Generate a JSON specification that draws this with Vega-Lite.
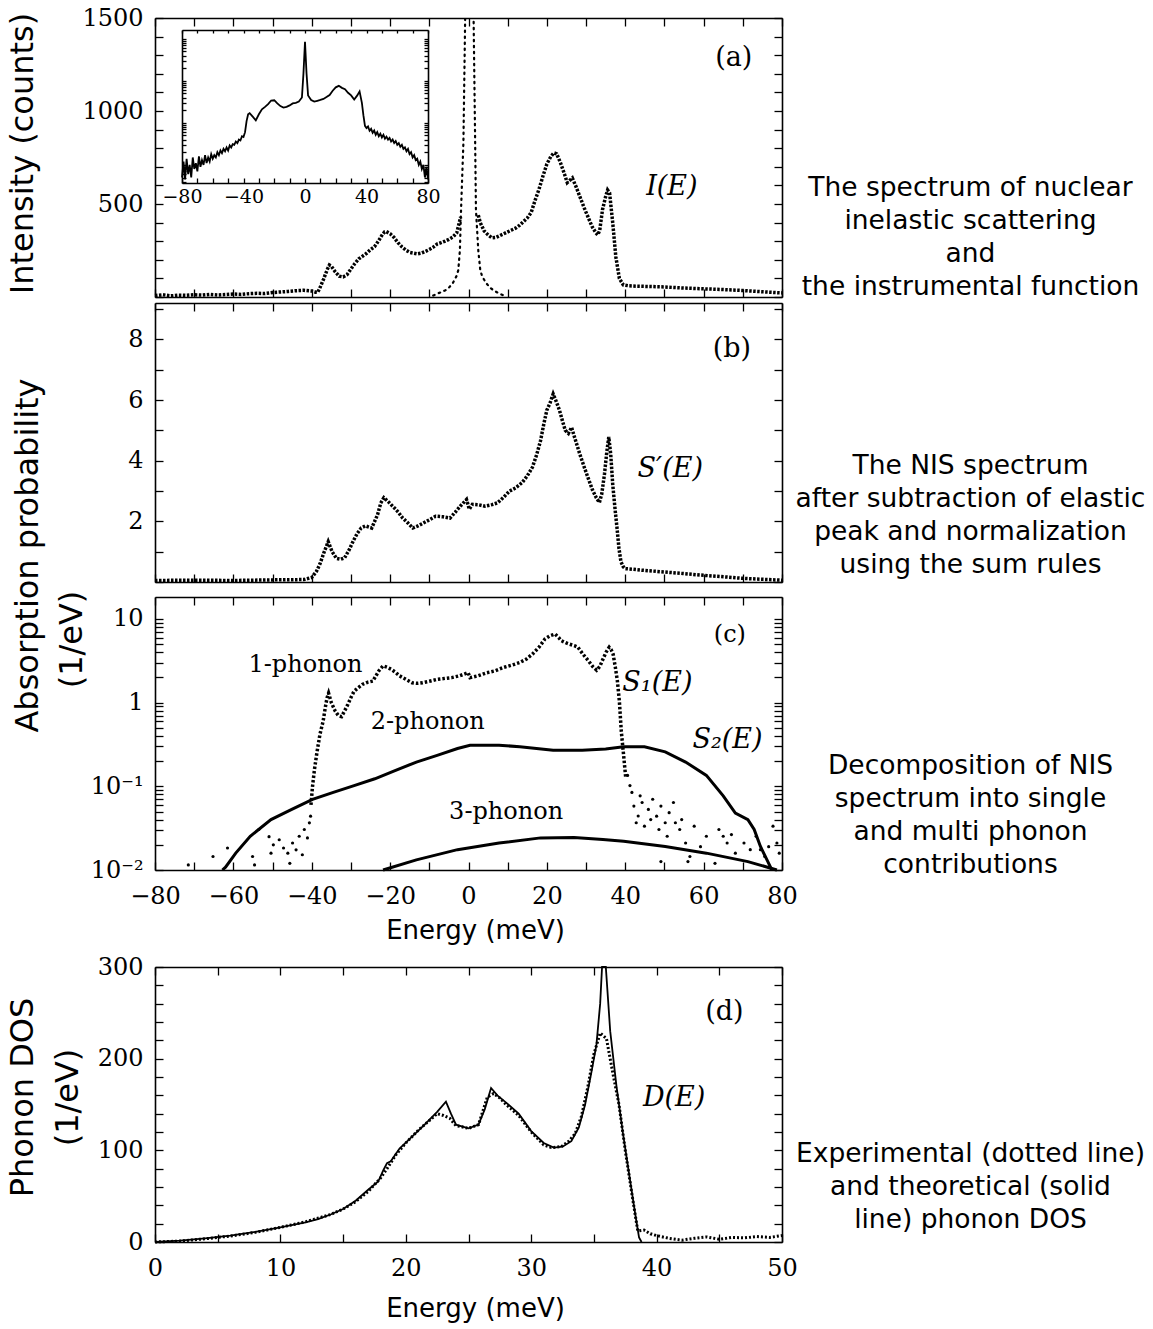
{
"$schema": "https://vega.github.io/schema/vega-lite/v6.json",
"width": 627, "height": 1224,
"autosize": {"type": "none"},
"padding": {"left": 155, "top": 18, "right": 371, "bottom": 87},
"background": "white",
"datasets": {
"spec": [
{"E":-80,"I":8,"seg":1},{"E":-78,"I":12,"seg":1},{"E":-76,"I":6,"seg":1},{"E":-74,"I":10,"seg":1},{"E":-72,"I":9,"seg":1},{"E":-70,"I":12,"seg":1},{"E":-68,"I":10,"seg":1},{"E":-66,"I":14,"seg":1},{"E":-64,"I":11,"seg":1},{"E":-62,"I":13,"seg":1},{"E":-60,"I":16,"seg":1},{"E":-58,"I":14,"seg":1},{"E":-56,"I":18,"seg":1},{"E":-54,"I":20,"seg":1},{"E":-52,"I":19,"seg":1},{"E":-50,"I":24,"seg":1},{"E":-48,"I":27,"seg":1},{"E":-46,"I":30,"seg":1},{"E":-44,"I":34,"seg":1},{"E":-42,"I":36,"seg":1},{"E":-40,"I":32,"seg":1},{"E":-39,"I":26,"seg":1},{"E":-38.5,"I":25,"seg":1},{"E":-38,"I":45,"seg":1},{"E":-37,"I":95,"seg":1},{"E":-36,"I":150,"seg":1},{"E":-35.5,"I":172,"seg":1},{"E":-35,"I":165,"seg":1},{"E":-34,"I":135,"seg":1},{"E":-33,"I":112,"seg":1},{"E":-32,"I":108,"seg":1},{"E":-31,"I":120,"seg":1},{"E":-30,"I":150,"seg":1},{"E":-29,"I":180,"seg":1},{"E":-28,"I":205,"seg":1},{"E":-27,"I":220,"seg":1},{"E":-26,"I":235,"seg":1},{"E":-25,"I":255,"seg":1},{"E":-24,"I":270,"seg":1},{"E":-23,"I":300,"seg":1},{"E":-22,"I":335,"seg":1},{"E":-21.4,"I":350,"seg":1},{"E":-21,"I":352,"seg":1},{"E":-20,"I":340,"seg":1},{"E":-19,"I":320,"seg":1},{"E":-18,"I":292,"seg":1},{"E":-17,"I":270,"seg":1},{"E":-16,"I":252,"seg":1},{"E":-15,"I":240,"seg":1},{"E":-14,"I":236,"seg":1},{"E":-13,"I":232,"seg":1},{"E":-12,"I":236,"seg":1},{"E":-11,"I":245,"seg":1},{"E":-10,"I":255,"seg":1},{"E":-9,"I":268,"seg":1},{"E":-8,"I":285,"seg":1},{"E":-7,"I":292,"seg":1},{"E":-6,"I":300,"seg":1},{"E":-5,"I":310,"seg":1},{"E":-4,"I":322,"seg":1},{"E":-3,"I":345,"seg":1},{"E":-2,"I":430,"seg":1},
{"E":2.5,"I":440,"seg":2},{"E":3,"I":400,"seg":2},{"E":4,"I":355,"seg":2},{"E":5,"I":334,"seg":2},{"E":6,"I":318,"seg":2},{"E":7,"I":320,"seg":2},{"E":8,"I":330,"seg":2},{"E":9,"I":340,"seg":2},{"E":10,"I":350,"seg":2},{"E":11,"I":360,"seg":2},{"E":12,"I":370,"seg":2},{"E":13,"I":385,"seg":2},{"E":14,"I":405,"seg":2},{"E":15,"I":425,"seg":2},{"E":16,"I":455,"seg":2},{"E":17,"I":520,"seg":2},{"E":18,"I":580,"seg":2},{"E":19,"I":650,"seg":2},{"E":20,"I":715,"seg":2},{"E":21,"I":755,"seg":2},{"E":21.8,"I":775,"seg":2},{"E":22.5,"I":770,"seg":2},{"E":23.5,"I":720,"seg":2},{"E":24.5,"I":660,"seg":2},{"E":25.2,"I":615,"seg":2},{"E":26,"I":630,"seg":2},{"E":26.5,"I":640,"seg":2},{"E":27.5,"I":590,"seg":2},{"E":28.5,"I":535,"seg":2},{"E":29.5,"I":480,"seg":2},{"E":30.5,"I":430,"seg":2},{"E":31.5,"I":380,"seg":2},{"E":32.5,"I":345,"seg":2},{"E":33,"I":334,"seg":2},{"E":33.5,"I":360,"seg":2},{"E":34.2,"I":470,"seg":2},{"E":35,"I":540,"seg":2},{"E":35.5,"I":575,"seg":2},{"E":36,"I":560,"seg":2},{"E":36.8,"I":400,"seg":2},{"E":37.6,"I":215,"seg":2},{"E":38.5,"I":100,"seg":2},{"E":39.5,"I":65,"seg":2},{"E":41,"I":60,"seg":2},{"E":43,"I":58,"seg":2},{"E":45,"I":57,"seg":2},{"E":47,"I":56,"seg":2},{"E":50,"I":54,"seg":2},{"E":55,"I":48,"seg":2},{"E":60,"I":44,"seg":2},{"E":65,"I":40,"seg":2},{"E":70,"I":35,"seg":2},{"E":75,"I":28,"seg":2},{"E":80,"I":22,"seg":2}
],
"inst": [
{"E":-9,"I":8},{"E":-7.7,"I":20},{"E":-6,"I":35},{"E":-5,"I":50},{"E":-4,"I":75},{"E":-3,"I":115},{"E":-2.6,"I":145},{"E":-2.2,"I":250},{"E":-1.9,"I":470},{"E":-1.3,"I":830},{"E":-0.85,"I":1500},{"E":0.2,"I":2500},{"E":1.3,"I":1500},{"E":1.7,"I":830},{"E":1.9,"I":470},{"E":2.5,"I":250},{"E":3,"I":145},{"E":3.5,"I":110},{"E":4.5,"I":75},{"E":5.5,"I":50},{"E":6.5,"I":35},{"E":7.7,"I":20},{"E":9,"I":8}
],
"inset": [
{"E":-80,"c":5},{"E":-79,"c":12},{"E":-78,"c":4.5},{"E":-77,"c":14},{"E":-76,"c":6},{"E":-75,"c":10},{"E":-74,"c":5},{"E":-73,"c":15},{"E":-72,"c":8},{"E":-71,"c":11},{"E":-70,"c":7},{"E":-69,"c":16},{"E":-68,"c":9},{"E":-67,"c":13},{"E":-66,"c":10},{"E":-65,"c":17},{"E":-64,"c":11},{"E":-63,"c":15},{"E":-62,"c":12},{"E":-61,"c":18},{"E":-60,"c":14},{"E":-59,"c":17},{"E":-58,"c":15},{"E":-57,"c":20},{"E":-56,"c":17},{"E":-55,"c":22},{"E":-54,"c":19},{"E":-53,"c":24},{"E":-52,"c":21},{"E":-51,"c":26},{"E":-50,"c":22},{"E":-49,"c":29},{"E":-48,"c":26},{"E":-47,"c":31},{"E":-46,"c":30},{"E":-45,"c":36},{"E":-44,"c":33},{"E":-43,"c":40},{"E":-42,"c":38},{"E":-41,"c":48},{"E":-40,"c":46},{"E":-39,"c":60},{"E":-38,"c":110},{"E":-37,"c":160},{"E":-36,"c":170},{"E":-34,"c":140},{"E":-32,"c":115},{"E":-30,"c":160},{"E":-28,"c":210},{"E":-26,"c":240},{"E":-24,"c":280},{"E":-22,"c":340},{"E":-20,"c":345},{"E":-18,"c":290},{"E":-16,"c":250},{"E":-14,"c":230},{"E":-12,"c":240},{"E":-10,"c":260},{"E":-8,"c":290},{"E":-6,"c":300},{"E":-4,"c":320},{"E":-2,"c":400},{"E":-1,"c":1500},{"E":0,"c":8500},{"E":1,"c":1500},{"E":2,"c":450},{"E":4,"c":350},{"E":6,"c":320},{"E":8,"c":335},{"E":10,"c":350},{"E":12,"c":370},{"E":14,"c":410},{"E":16,"c":460},{"E":18,"c":580},{"E":20,"c":700},{"E":22,"c":760},{"E":24,"c":680},{"E":26,"c":630},{"E":28,"c":520},{"E":30,"c":450},{"E":32,"c":360},{"E":34,"c":450},{"E":35.5,"c":560},{"E":37,"c":300},{"E":38,"c":150},{"E":39,"c":85},{"E":40,"c":75},{"E":41,"c":82},{"E":42,"c":65},{"E":43,"c":72},{"E":44,"c":58},{"E":45,"c":66},{"E":46,"c":52},{"E":47,"c":60},{"E":48,"c":48},{"E":49,"c":55},{"E":50,"c":45},{"E":51,"c":52},{"E":52,"c":42},{"E":53,"c":47},{"E":54,"c":40},{"E":55,"c":44},{"E":56,"c":36},{"E":57,"c":40},{"E":58,"c":33},{"E":59,"c":37},{"E":60,"c":30},{"E":61,"c":33},{"E":62,"c":27},{"E":63,"c":30},{"E":64,"c":24},{"E":65,"c":26},{"E":66,"c":21},{"E":67,"c":24},{"E":68,"c":18},{"E":69,"c":20},{"E":70,"c":15},{"E":71,"c":17},{"E":72,"c":13},{"E":73,"c":14},{"E":74,"c":10},{"E":75,"c":12},{"E":76,"c":8},{"E":77,"c":10},{"E":78,"c":5},{"E":79,"c":9},{"E":80,"c":4.5}
],
"sprime": [
{"E":-80,"S":0.05},{"E":-70,"S":0.06},{"E":-60,"S":0.05},{"E":-50,"S":0.07},{"E":-42,"S":0.08},{"E":-40,"S":0.15},{"E":-38.8,"S":0.35},{"E":-37.9,"S":0.6},{"E":-36.8,"S":1.0},{"E":-35.8,"S":1.33},{"E":-34.8,"S":1.0},{"E":-33.7,"S":0.78},{"E":-32.6,"S":0.75},{"E":-31.6,"S":0.8},{"E":-30.5,"S":1.05},{"E":-29.5,"S":1.33},{"E":-28.4,"S":1.6},{"E":-27.4,"S":1.78},{"E":-26.3,"S":1.85},{"E":-24.7,"S":1.78},{"E":-23.2,"S":2.22},{"E":-22.4,"S":2.6},{"E":-21.6,"S":2.78},{"E":-20.5,"S":2.65},{"E":-18.9,"S":2.44},{"E":-17.9,"S":2.3},{"E":-16.8,"S":2.11},{"E":-15.5,"S":1.95},{"E":-14.2,"S":1.78},{"E":-12.9,"S":1.85},{"E":-11.6,"S":1.94},{"E":-10,"S":2.05},{"E":-8.4,"S":2.17},{"E":-6.5,"S":2.15},{"E":-4.7,"S":2.11},{"E":-3.4,"S":2.3},{"E":-2.1,"S":2.5},{"E":-0.5,"S":2.72},{"E":0.2,"S":2.4},{"E":1,"S":2.56},{"E":2.5,"S":2.55},{"E":4.2,"S":2.5},{"E":6,"S":2.55},{"E":7.4,"S":2.61},{"E":9,"S":2.8},{"E":10.5,"S":3.0},{"E":12,"S":3.1},{"E":13.7,"S":3.28},{"E":15,"S":3.5},{"E":16.3,"S":3.78},{"E":17.4,"S":4.2},{"E":18.4,"S":4.67},{"E":19.2,"S":5.2},{"E":20,"S":5.67},{"E":20.8,"S":5.9},{"E":21.6,"S":6.2},{"E":22.4,"S":5.95},{"E":23.2,"S":5.67},{"E":24,"S":5.3},{"E":24.7,"S":5.0},{"E":25.5,"S":4.9},{"E":26.3,"S":5.1},{"E":27,"S":4.8},{"E":28.4,"S":4.22},{"E":29.5,"S":3.8},{"E":30.5,"S":3.44},{"E":31.6,"S":3.05},{"E":32.6,"S":2.78},{"E":33.4,"S":2.62},{"E":34,"S":2.9},{"E":34.7,"S":3.56},{"E":35.3,"S":4.3},{"E":35.8,"S":4.78},{"E":36.3,"S":4.2},{"E":36.8,"S":3.22},{"E":37.4,"S":2.4},{"E":37.9,"S":1.78},{"E":38.4,"S":1.1},{"E":38.9,"S":0.67},{"E":39.5,"S":0.5},{"E":40,"S":0.44},{"E":42,"S":0.42},{"E":44.2,"S":0.39},{"E":48,"S":0.35},{"E":54.7,"S":0.28},{"E":60,"S":0.22},{"E":65.3,"S":0.17},{"E":70,"S":0.12},{"E":75,"S":0.09},{"E":80,"S":0.06}
],
"s1": [
{"E":-40.2,"S":0.06},{"E":-39.8,"S":0.1},{"E":-39.3,"S":0.16},{"E":-38.7,"S":0.25},{"E":-37.9,"S":0.42},{"E":-37.1,"S":0.6},{"E":-36.5,"S":0.9},{"E":-36.1,"S":1.14},{"E":-35.7,"S":1.3},{"E":-35,"S":1.0},{"E":-34,"S":0.79},{"E":-33.2,"S":0.7},{"E":-32.4,"S":0.68},{"E":-31.6,"S":0.8},{"E":-30.8,"S":0.95},{"E":-30,"S":1.15},{"E":-29.2,"S":1.37},{"E":-28.2,"S":1.5},{"E":-27.1,"S":1.65},{"E":-25.8,"S":1.75},{"E":-24.4,"S":1.81},{"E":-23.6,"S":2.1},{"E":-22.9,"S":2.39},{"E":-21.8,"S":2.75},{"E":-20.8,"S":2.65},{"E":-19.7,"S":2.5},{"E":-18.6,"S":2.3},{"E":-17.6,"S":2.09},{"E":-16,"S":1.9},{"E":-14.4,"S":1.73},{"E":-13,"S":1.7},{"E":-11.7,"S":1.73},{"E":-10,"S":1.8},{"E":-8,"S":1.9},{"E":-6,"S":1.95},{"E":-4.3,"S":1.99},{"E":-2.2,"S":2.1},{"E":-0.1,"S":2.28},{"E":0.4,"S":1.99},{"E":2.5,"S":2.1},{"E":4.7,"S":2.28},{"E":6.8,"S":2.4},{"E":8.9,"S":2.63},{"E":11,"S":2.8},{"E":13.1,"S":3.02},{"E":14.7,"S":3.3},{"E":16.3,"S":3.8},{"E":18,"S":4.6},{"E":19.5,"S":5.76},{"E":20.8,"S":6.3},{"E":22.1,"S":6.6},{"E":23,"S":6.0},{"E":23.7,"S":5.5},{"E":24.8,"S":5.2},{"E":25.8,"S":5.0},{"E":27,"S":4.8},{"E":27.9,"S":4.6},{"E":29.2,"S":3.8},{"E":30.6,"S":3.16},{"E":31.7,"S":2.7},{"E":32.7,"S":2.44},{"E":33.5,"S":2.7},{"E":34.3,"S":3.3},{"E":35.1,"S":4.0},{"E":35.9,"S":4.6},{"E":36.4,"S":4.3},{"E":36.9,"S":3.8},{"E":37.5,"S":2.6},{"E":38,"S":1.8},{"E":38.5,"S":1.04},{"E":39,"S":0.45},{"E":39.6,"S":0.23},{"E":40.1,"S":0.13}
],
"noise": [
{"E":-71.5,"S":0.0115},{"E":-65.2,"S":0.0145},{"E":-61.5,"S":0.0183},{"E":-55.1,"S":0.0145},{"E":-54.6,"S":0.0115},{"E":-53.5,"S":0.0305},{"E":-50.4,"S":0.0159},{"E":-50.9,"S":0.025},{"E":-49.8,"S":0.02},{"E":-48.3,"S":0.023},{"E":-47.2,"S":0.0183},{"E":-46.1,"S":0.0159},{"E":-45.6,"S":0.012},{"E":-44.9,"S":0.021},{"E":-44,"S":0.0174},{"E":-43.2,"S":0.0253},{"E":-42.4,"S":0.0152},{"E":-41.9,"S":0.0305},{"E":-41.1,"S":0.0242},{"E":-40.6,"S":0.0366},{"E":-40.3,"S":0.044},
{"E":40.6,"S":0.135},{"E":41.2,"S":0.102},{"E":41.7,"S":0.0846},{"E":42.2,"S":0.058},{"E":42.8,"S":0.0367},{"E":43.3,"S":0.0442},{"E":43.8,"S":0.077},{"E":44.3,"S":0.064},{"E":44.9,"S":0.0334},{"E":45.9,"S":0.053},{"E":46.5,"S":0.04},{"E":47,"S":0.07},{"E":48,"S":0.044},{"E":48.6,"S":0.0305},{"E":49.1,"S":0.058},{"E":50.2,"S":0.0367},{"E":50.7,"S":0.0253},{"E":51.2,"S":0.0484},{"E":52.3,"S":0.064},{"E":52.8,"S":0.0367},{"E":53.9,"S":0.0305},{"E":54.4,"S":0.04},{"E":55.4,"S":0.021},{"E":56.5,"S":0.0145},{"E":57.6,"S":0.0334},{"E":59.2,"S":0.019},{"E":60.7,"S":0.0253},{"E":62.9,"S":0.012},{"E":63.9,"S":0.0305},{"E":65,"S":0.0253},{"E":66,"S":0.021},{"E":67.1,"S":0.0265},{"E":68.1,"S":0.0159},{"E":70.3,"S":0.021},{"E":71.9,"S":0.0175},{"E":73.4,"S":0.0253},{"E":74.5,"S":0.0175},{"E":75.6,"S":0.0145},{"E":76.6,"S":0.019},{"E":77.7,"S":0.0334},{"E":78.7,"S":0.021},{"E":79.3,"S":0.0159},{"E":49.1,"S":0.0126},{"E":56,"S":0.0126}
],
"s2": [
{"E":-62.8,"S":0.01},{"E":-62,"S":0.0108},{"E":-59.4,"S":0.0159},{"E":-55.7,"S":0.0253},{"E":-50.4,"S":0.04},{"E":-45.1,"S":0.053},{"E":-39.8,"S":0.07},{"E":-34.5,"S":0.0846},{"E":-29.2,"S":0.102},{"E":-23.9,"S":0.123},{"E":-18.6,"S":0.155},{"E":-13.3,"S":0.195},{"E":-8,"S":0.234},{"E":-2.8,"S":0.283},{"E":0.4,"S":0.31},{"E":7.8,"S":0.31},{"E":13.1,"S":0.297},{"E":21.6,"S":0.27},{"E":29,"S":0.27},{"E":35,"S":0.28},{"E":39.6,"S":0.297},{"E":44.9,"S":0.297},{"E":50.2,"S":0.258},{"E":55.4,"S":0.195},{"E":60.7,"S":0.135},{"E":65,"S":0.077},{"E":68.1,"S":0.048},{"E":71.3,"S":0.04},{"E":72.9,"S":0.0305},{"E":74.5,"S":0.0191},{"E":76.6,"S":0.012},{"E":77.4,"S":0.01}
],
"s3": [
{"E":-21.8,"S":0.01},{"E":-13.3,"S":0.0132},{"E":-2.8,"S":0.0175},{"E":7.8,"S":0.021},{"E":18.4,"S":0.0242},{"E":26.9,"S":0.0245},{"E":34.3,"S":0.0231},{"E":39.6,"S":0.022},{"E":50.2,"S":0.0191},{"E":60.7,"S":0.0159},{"E":71.3,"S":0.0126},{"E":78.7,"S":0.01}
],
"dth": [
{"E":0,"D":0},{"E":2,"D":1.5},{"E":4,"D":4},{"E":6,"D":7},{"E":8,"D":11},{"E":10,"D":16},{"E":12,"D":21.5},{"E":13,"D":25},{"E":14,"D":30},{"E":15,"D":36},{"E":16,"D":45},{"E":17,"D":57},{"E":17.8,"D":66},{"E":18.2,"D":78},{"E":18.5,"D":86},{"E":18.8,"D":88},{"E":19.5,"D":102},{"E":20.5,"D":115},{"E":21.5,"D":128},{"E":22.5,"D":142},{"E":23.2,"D":153},{"E":23.6,"D":140},{"E":24,"D":128},{"E":25,"D":124},{"E":25.8,"D":128},{"E":26.3,"D":145},{"E":26.8,"D":168},{"E":27.3,"D":160},{"E":28,"D":152},{"E":29,"D":140},{"E":30,"D":121},{"E":31,"D":108},{"E":31.8,"D":103},{"E":32.5,"D":104},{"E":33.2,"D":110},{"E":33.8,"D":125},{"E":34.3,"D":150},{"E":34.8,"D":185},{"E":35.2,"D":215},{"E":35.5,"D":260},{"E":35.65,"D":300},{"E":35.95,"D":300},{"E":36.3,"D":230},{"E":36.8,"D":170},{"E":37.3,"D":120},{"E":37.8,"D":75},{"E":38.3,"D":30},{"E":38.6,"D":5},{"E":38.8,"D":0}
],
"dex": [
{"E":0,"D":0},{"E":2,"D":1},{"E":4,"D":3.5},{"E":6,"D":6.5},{"E":8,"D":10.5},{"E":10,"D":16},{"E":12,"D":22},{"E":14,"D":30},{"E":15,"D":36},{"E":16,"D":44},{"E":17,"D":55},{"E":18,"D":70},{"E":18.6,"D":82},{"E":19.2,"D":95},{"E":20,"D":108},{"E":21,"D":122},{"E":22,"D":134},{"E":22.5,"D":140},{"E":23,"D":138},{"E":23.5,"D":135},{"E":24,"D":127},{"E":25,"D":124},{"E":25.8,"D":128},{"E":26.5,"D":158},{"E":27,"D":162},{"E":27.5,"D":157},{"E":28,"D":150},{"E":29,"D":138},{"E":30,"D":120},{"E":31,"D":106},{"E":31.6,"D":103},{"E":32.4,"D":104},{"E":33,"D":110},{"E":33.5,"D":118},{"E":34,"D":137},{"E":34.5,"D":168},{"E":35,"D":205},{"E":35.5,"D":228},{"E":36,"D":222},{"E":36.5,"D":185},{"E":37,"D":150},{"E":37.5,"D":100},{"E":38,"D":55},{"E":38.5,"D":12},{"E":39,"D":13},{"E":39.5,"D":9},{"E":40,"D":7},{"E":41,"D":4},{"E":42,"D":2},{"E":43,"D":4},{"E":44,"D":5.5},{"E":45,"D":3},{"E":46,"D":5},{"E":47,"D":4.5},{"E":48,"D":6},{"E":49,"D":5},{"E":50,"D":7}
]
},
"resolve": {"scale": {"x": "independent", "y": "independent"}, "axis": {"x": "independent", "y": "independent"}},
"layer": [
{"data": {"name": "spec"},
 "mark": {"type": "line", "color": "black", "strokeWidth": 3.5, "strokeDash": [2.5, 1.5]},
 "encoding": {
  "x": {"field": "E", "type": "quantitative", "scale": {"domain": [-80, 80], "nice": false, "zero": false},
        "axis": {"orient": "bottom", "offset": -945, "values": [-80,-70,-60,-50,-40,-30,-20,-10,0,10,20,30,40,50,60,70,80], "labels": false, "title": null}},
  "y": {"field": "I", "type": "quantitative", "scale": {"domain": [0, 1500], "range": [279, 0], "nice": false, "zero": false},
        "axis": {"orient": "left", "values": [0,100,200,300,400,500,600,700,800,900,1000,1100,1200,1300,1400,1500], "format": "d",
                 "labelExpr": "datum.value % 500 == 0 && datum.value > 0 ? datum.label : ''",
                 "title": "Intensity (counts)", "titleAngle": 270, "titleX": -133, "titleY": 135}},
  "detail": {"field": "seg"}
 }},
{"data": {"name": "inst"},
 "mark": {"type": "line", "color": "black", "strokeWidth": 2.2, "strokeDash": [1.5, 4.5], "strokeCap": "round", "clip": true},
 "encoding": {
  "x": {"field": "E", "type": "quantitative", "scale": {"domain": [-80, 80], "nice": false, "zero": false},
        "axis": {"orient": "top", "offset": 0, "values": [-80,-70,-60,-50,-40,-30,-20,-10,0,10,20,30,40,50,60,70,80], "labels": false, "title": null}},
  "y": {"field": "I", "type": "quantitative", "scale": {"domain": [0, 1500], "range": [279, 0], "nice": false, "zero": false},
        "axis": {"orient": "right", "values": [0,100,200,300,400,500,600,700,800,900,1000,1100,1200,1300,1400,1500], "labels": false,
                 "title": ["The spectrum of nuclear", "inelastic scattering", "and", "the instrumental function"],
                 "titleAngle": 0, "titleX": 188, "titleY": 169, "titleFontSize": 26.5, "titleLineHeight": 33}}
 }},
{"data": {"name": "inset"},
 "mark": {"type": "line", "color": "black", "strokeWidth": 1.8},
 "encoding": {
  "x": {"field": "E", "type": "quantitative", "scale": {"domain": [-80, 80], "range": [27, 273], "nice": false, "zero": false},
        "axis": {"orient": "bottom", "offset": -1059, "values": [-80,-70,-60,-50,-40,-30,-20,-10,0,10,20,30,40,50,60,70,80], "format": "d",
                 "labelExpr": "datum.value % 40 == 0 ? datum.label : ''", "labelFontSize": 19, "tickSize": -5, "labelPadding": 9, "title": null}},
  "y": {"field": "c", "type": "quantitative", "scale": {"type": "log", "domain": [3.7, 16200], "range": [165, 12], "nice": false},
        "axis": {"orient": "left", "offset": -27, "values": [4,5,6,7,8,9,10,20,30,40,50,60,70,80,90,100,200,300,400,500,600,700,800,900,1000,2000,3000,4000,5000,6000,7000,8000,9000,10000], "labels": false, "tickSize": -4, "title": null}}
 }},
{"data": {"name": "inset"},
 "mark": {"type": "line", "color": "black", "opacity": 0},
 "encoding": {
  "x": {"field": "E", "type": "quantitative", "scale": {"domain": [-80, 80], "range": [27, 273], "nice": false, "zero": false},
        "axis": {"orient": "top", "offset": -12, "values": [-80,-70,-60,-50,-40,-30,-20,-10,0,10,20,30,40,50,60,70,80], "labels": false, "tickSize": -3, "title": null}},
  "y": {"field": "c", "type": "quantitative", "scale": {"type": "log", "domain": [3.7, 16200], "range": [165, 12], "nice": false},
        "axis": {"orient": "right", "offset": -354, "values": [4,5,6,7,8,9,10,20,30,40,50,60,70,80,90,100,200,300,400,500,600,700,800,900,1000,2000,3000,4000,5000,6000,7000,8000,9000,10000], "labels": false, "tickSize": -4, "title": null}}
 }},
{"data": {"values": [{"E": 67.7, "v": 1286, "t": "(a)"}]},
 "mark": {"type": "text", "font": "DejaVu Serif", "fontSize": 27, "color": "black"},
 "encoding": {
  "x": {"field": "E", "type": "quantitative", "scale": {"domain": [-80, 80], "nice": false, "zero": false}, "axis": null},
  "y": {"field": "v", "type": "quantitative", "scale": {"domain": [0, 1500], "range": [279, 0], "nice": false, "zero": false}, "axis": null},
  "text": {"field": "t"}
 }},
{"data": {"values": [{"E": 51.9, "v": 592, "t": "I(E)"}]},
 "mark": {"type": "text", "font": "DejaVu Serif", "fontSize": 27, "fontStyle": "italic", "color": "black"},
 "encoding": {
  "x": {"field": "E", "type": "quantitative", "scale": {"domain": [-80, 80], "nice": false, "zero": false}, "axis": null},
  "y": {"field": "v", "type": "quantitative", "scale": {"domain": [0, 1500], "range": [279, 0], "nice": false, "zero": false}, "axis": null},
  "text": {"field": "t"}
 }},
{"data": {"name": "sprime"},
 "mark": {"type": "line", "color": "black", "strokeWidth": 3.5, "strokeDash": [2.5, 1.5]},
 "encoding": {
  "x": {"field": "E", "type": "quantitative", "scale": {"domain": [-80, 80], "nice": false, "zero": false},
        "axis": {"orient": "bottom", "offset": -660, "values": [-80,-70,-60,-50,-40,-30,-20,-10,0,10,20,30,40,50,60,70,80], "labels": false, "title": null}},
  "y": {"field": "S", "type": "quantitative", "scale": {"domain": [0, 9.2], "range": [564, 285], "nice": false, "zero": false},
        "axis": {"orient": "left", "values": [0,1,2,3,4,5,6,7,8,9], "format": "d",
                 "labelExpr": "datum.value % 2 == 0 && datum.value > 0 ? datum.label : ''",
                 "title": "Absorption probability", "titleAngle": 270, "titleX": -128, "titleY": 537}}
 }},
{"data": {"values": [{"E": 67.2, "v": 7.68, "t": "(b)"}]},
 "mark": {"type": "text", "font": "DejaVu Serif", "fontSize": 27, "color": "black"},
 "encoding": {
  "x": {"field": "E", "type": "quantitative", "scale": {"domain": [-80, 80], "nice": false, "zero": false},
        "axis": {"orient": "top", "offset": -285, "values": [-80,-70,-60,-50,-40,-30,-20,-10,0,10,20,30,40,50,60,70,80], "labels": false, "title": null}},
  "y": {"field": "v", "type": "quantitative", "scale": {"domain": [0, 9.2], "range": [564, 285], "nice": false, "zero": false},
        "axis": {"orient": "right", "values": [0,1,2,3,4,5,6,7,8,9], "labels": false,
                 "title": ["The NIS spectrum", "after subtraction of elastic", "peak and normalization", "using the sum rules"],
                 "titleAngle": 0, "titleX": 188, "titleY": 447, "titleFontSize": 26.5, "titleLineHeight": 33}},
  "text": {"field": "t"}
 }},
{"data": {"values": [{"E": 51.5, "v": 3.73, "t": "S′(E)"}]},
 "mark": {"type": "text", "font": "DejaVu Serif", "fontSize": 27, "fontStyle": "italic", "color": "black"},
 "encoding": {
  "x": {"field": "E", "type": "quantitative", "scale": {"domain": [-80, 80], "nice": false, "zero": false}, "axis": null},
  "y": {"field": "v", "type": "quantitative", "scale": {"domain": [0, 9.2], "range": [564, 285], "nice": false, "zero": false}, "axis": null},
  "text": {"field": "t"}
 }},
{"data": {"name": "s1"},
 "mark": {"type": "line", "color": "black", "strokeWidth": 3.5, "strokeDash": [2.5, 2]},
 "encoding": {
  "x": {"field": "E", "type": "quantitative", "scale": {"domain": [-80, 80], "nice": false, "zero": false},
        "axis": {"orient": "bottom", "offset": -372, "values": [-80,-70,-60,-50,-40,-30,-20,-10,0,10,20,30,40,50,60,70,80], "format": "d",
                 "labelExpr": "datum.value % 20 == 0 ? datum.label : ''", "labelPadding": 22,
                 "title": "Energy (meV)", "titleFontSize": 26, "titleX": 320, "titleY": 60}},
  "y": {"field": "S", "type": "quantitative", "scale": {"type": "log", "domain": [0.01, 18.3], "range": [852, 579], "nice": false},
        "axis": {"orient": "left", "values": [0.01,0.02,0.03,0.04,0.05,0.06,0.07,0.08,0.09,0.1,0.2,0.3,0.4,0.5,0.6,0.7,0.8,0.9,1,2,3,4,5,6,7,8,9,10],
                 "labelExpr": "datum.value == 0.01 ? '10⁻²' : datum.value == 0.1 ? '10⁻¹' : datum.value == 1 ? '1' : datum.value == 10 ? '10' : ''",
                 "title": "(1/eV)", "titleAngle": 270, "titleX": -84, "titleY": 621}}
 }},
{"data": {"name": "noise"},
 "mark": {"type": "point", "filled": true, "color": "black", "size": 10, "opacity": 1},
 "encoding": {
  "x": {"field": "E", "type": "quantitative", "scale": {"domain": [-80, 80], "nice": false, "zero": false},
        "axis": {"orient": "top", "offset": -579, "values": [-80,-70,-60,-50,-40,-30,-20,-10,0,10,20,30,40,50,60,70,80], "labels": false, "title": null}},
  "y": {"field": "S", "type": "quantitative", "scale": {"type": "log", "domain": [0.01, 18.3], "range": [852, 579], "nice": false},
        "axis": {"orient": "right", "values": [0.01,0.02,0.03,0.04,0.05,0.06,0.07,0.08,0.09,0.1,0.2,0.3,0.4,0.5,0.6,0.7,0.8,0.9,1,2,3,4,5,6,7,8,9,10], "labels": false,
                 "title": ["Decomposition of NIS", "spectrum into single", "and multi phonon", "contributions"],
                 "titleAngle": 0, "titleX": 188, "titleY": 747, "titleFontSize": 26.5, "titleLineHeight": 33}}
 }},
{"data": {"name": "s2"},
 "mark": {"type": "line", "color": "black", "strokeWidth": 3},
 "encoding": {
  "x": {"field": "E", "type": "quantitative", "scale": {"domain": [-80, 80], "nice": false, "zero": false}, "axis": null},
  "y": {"field": "S", "type": "quantitative", "scale": {"type": "log", "domain": [0.01, 18.3], "range": [852, 579], "nice": false}, "axis": null}
 }},
{"data": {"name": "s3"},
 "mark": {"type": "line", "color": "black", "strokeWidth": 3},
 "encoding": {
  "x": {"field": "E", "type": "quantitative", "scale": {"domain": [-80, 80], "nice": false, "zero": false}, "axis": null},
  "y": {"field": "S", "type": "quantitative", "scale": {"type": "log", "domain": [0.01, 18.3], "range": [852, 579], "nice": false}, "axis": null}
 }},
{"data": {"values": [{"E": 66.7, "v": 6.45, "t": "(c)"}, {"E": -41.6, "v": 2.83, "t": "1-phonon"}, {"E": -10.4, "v": 0.58, "t": "2-phonon"}, {"E": 9.6, "v": 0.049, "t": "3-phonon"}]},
 "mark": {"type": "text", "font": "DejaVu Serif", "fontSize": 24, "color": "black"},
 "encoding": {
  "x": {"field": "E", "type": "quantitative", "scale": {"domain": [-80, 80], "nice": false, "zero": false}, "axis": null},
  "y": {"field": "v", "type": "quantitative", "scale": {"type": "log", "domain": [0.01, 18.3], "range": [852, 579], "nice": false}, "axis": null},
  "text": {"field": "t"}
 }},
{"data": {"values": [{"E": 48.2, "v": 1.73, "t": "S₁(E)"}, {"E": 66.1, "v": 0.36, "t": "S₂(E)"}]},
 "mark": {"type": "text", "font": "DejaVu Serif", "fontSize": 27, "fontStyle": "italic", "color": "black"},
 "encoding": {
  "x": {"field": "E", "type": "quantitative", "scale": {"domain": [-80, 80], "nice": false, "zero": false}, "axis": null},
  "y": {"field": "v", "type": "quantitative", "scale": {"type": "log", "domain": [0.01, 18.3], "range": [852, 579], "nice": false}, "axis": null},
  "text": {"field": "t"}
 }},
{"data": {"name": "dth"},
 "mark": {"type": "line", "color": "black", "strokeWidth": 1.8},
 "encoding": {
  "x": {"field": "E", "type": "quantitative", "scale": {"domain": [0, 50], "nice": false, "zero": false},
        "axis": {"orient": "bottom", "offset": 0, "values": [0,5,10,15,20,25,30,35,40,45,50], "format": "d",
                 "labelExpr": "datum.value % 10 == 0 ? datum.label : ''", "labelPadding": 22,
                 "title": "Energy (meV)", "titleFontSize": 26, "titleX": 320, "titleY": 66}},
  "y": {"field": "D", "type": "quantitative", "scale": {"domain": [0, 300], "range": [1224, 949], "nice": false, "zero": false},
        "axis": {"orient": "left", "values": [0,20,40,60,80,100,120,140,160,180,200,220,240,260,280,300], "format": "d",
                 "labelExpr": "datum.value % 100 == 0 ? datum.label : ''",
                 "title": ["Phonon DOS", "(1/eV)"], "titleAngle": 270, "titleX": -133, "titleY": 1079, "titleLineHeight": 45}}
 }},
{"data": {"name": "dex"},
 "mark": {"type": "line", "color": "black", "strokeWidth": 3, "strokeDash": [2, 2]},
 "encoding": {
  "x": {"field": "E", "type": "quantitative", "scale": {"domain": [0, 50], "nice": false, "zero": false},
        "axis": {"orient": "top", "offset": -949, "values": [0,5,10,15,20,25,30,35,40,45,50], "labels": false, "title": null}},
  "y": {"field": "D", "type": "quantitative", "scale": {"domain": [0, 300], "range": [1224, 949], "nice": false, "zero": false},
        "axis": {"orient": "right", "values": [0,20,40,60,80,100,120,140,160,180,200,220,240,260,280,300], "labels": false,
                 "title": ["Experimental (dotted line)", "and theoretical (solid", "line) phonon DOS"],
                 "titleAngle": 0, "titleX": 188, "titleY": 1135, "titleFontSize": 26.5, "titleLineHeight": 33}}
 }},
{"data": {"values": [{"E": 45.4, "v": 251, "t": "(d)"}]},
 "mark": {"type": "text", "font": "DejaVu Serif", "fontSize": 27, "color": "black"},
 "encoding": {
  "x": {"field": "E", "type": "quantitative", "scale": {"domain": [0, 50], "nice": false, "zero": false}, "axis": null},
  "y": {"field": "v", "type": "quantitative", "scale": {"domain": [0, 300], "range": [1224, 949], "nice": false, "zero": false}, "axis": null},
  "text": {"field": "t"}
 }},
{"data": {"values": [{"E": 41.4, "v": 157, "t": "D(E)"}]},
 "mark": {"type": "text", "font": "DejaVu Serif", "fontSize": 27, "fontStyle": "italic", "color": "black"},
 "encoding": {
  "x": {"field": "E", "type": "quantitative", "scale": {"domain": [0, 50], "nice": false, "zero": false}, "axis": null},
  "y": {"field": "v", "type": "quantitative", "scale": {"domain": [0, 300], "range": [1224, 949], "nice": false, "zero": false}, "axis": null},
  "text": {"field": "t"}
 }}
],
"config": {
 "view": {"stroke": null},
 "axis": {"grid": false, "domainColor": "#000", "domainWidth": 1.6, "tickColor": "#000", "tickWidth": 1.3, "tickSize": -8,
          "labelFont": "DejaVu Serif", "labelFontSize": 24, "labelColor": "#000", "labelPadding": 20, "labelFlush": false, "labelOverlap": false,
          "titleFont": "DejaVu Sans", "titleFontWeight": "normal", "titleColor": "#000", "titleFontSize": 32, "titleAlign": "center", "titleBaseline": "middle"}
}
}
